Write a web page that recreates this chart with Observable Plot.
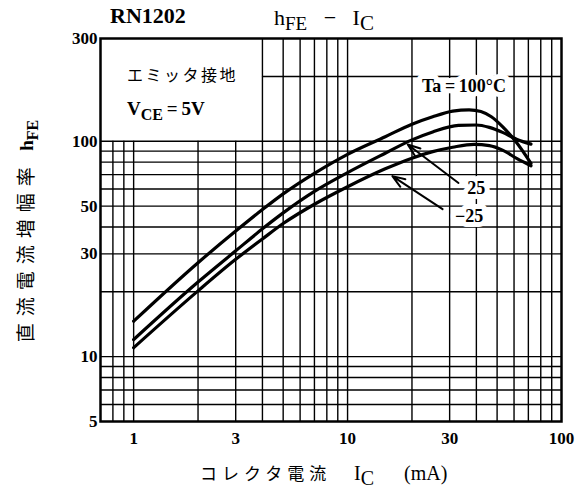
<!DOCTYPE html>
<html><head><meta charset="utf-8">
<script src="https://cdn.jsdelivr.net/npm/d3@7"></script>
<script src="https://cdn.jsdelivr.net/npm/@observablehq/plot@0.6"></script>
<style>body{margin:0;background:#fff}</style>
</head><body><div id="chart"></div>
<script>
// ---- data ----
const xGrid = [0.8, 0.9, 1, 2, 3, 4, 5, 6, 7, 8, 9, 10, 20, 30, 40, 50, 60, 70, 80, 90];
const yGrid = [6, 7, 8, 9, 10, 20, 30, 40, 50, 60, 70, 80, 90, 100];
const yGridUpper = [200];
const xTicks = [1, 3, 10, 30, 100];
const yTicks = [5, 10, 30, 50, 100, 300];

const ic100  = [1, 2, 3, 4, 5, 7, 10, 15, 20, 25, 31, 37, 42, 47, 53, 61, 72];
const hfe100 = [14.6, 27.3, 38.3, 48.2, 57, 71, 87, 105, 120, 130, 138, 140, 137.5, 130, 117, 100, 79];
const ic25   = [1, 2, 3, 4, 5, 7, 10, 15, 20, 25, 33, 40, 46, 53, 62, 72];
const hfe25  = [12, 22.2, 31, 39.2, 46.5, 58.5, 71.5, 88, 101.5, 110.5, 118.5, 119, 116, 110, 102, 97];
const icM25  = [1, 2, 3, 4, 5, 7, 10, 15, 20, 25, 31, 39, 46, 53, 62, 72];
const hfeM25 = [11, 20.2, 28.3, 35.2, 41.5, 51, 61.5, 74.5, 83.5, 89.5, 93.8, 96.8, 95.5, 91, 83, 77];

const seriesNames = ["100", "25", "-25"];
const rows = [
  ...ic100.map((x, i) => ({ta: seriesNames[0], ic: x, hfe: hfe100[i]})),
  ...ic25.map((x, i) => ({ta: seriesNames[1], ic: x, hfe: hfe25[i]})),
  ...icM25.map((x, i) => ({ta: seriesNames[2], ic: x, hfe: hfeM25[i]}))
];

// annotations (data coordinates)
const labels = [
  {x: 35, y: 180, text: "Ta\u2009=\u2009100°C"},
  {x: 40, y: 60.5, text: "25"},
  {x: 37, y: 45, text: "\u221225"}
];
const arrows = [
  {x1: 33, y1: 64, x2: 19.1, y2: 96.6},
  {x1: 27.8, y1: 48.4, x2: 16.2, y2: 68.9}
];
const boxX = [0.7, 4], boxY = [100, 300];

const serif = "'Liberation Serif', 'DejaVu Serif', serif";
const jp = "'Noto Sans CJK JP', sans-serif";

const plot = Plot.plot({
  width: 586, height: 493,
  marginLeft: 100, marginRight: 25, marginTop: 38, marginBottom: 72,
  x: {type: "log", domain: [0.7, 100], axis: null},
  y: {type: "log", domain: [5, 300], axis: null},
  style: {fontFamily: serif, background: "white", overflow: "visible"},
  marks: [
    Plot.ruleX(xGrid.filter(d => d < boxX[1]), {x: d => d, y1: 5, y2: 100, stroke: "#000", strokeWidth: 1.4}),
    Plot.ruleX(xGrid.filter(d => d >= boxX[1]), {x: d => d, y1: 5, y2: 300, stroke: "#000", strokeWidth: 1.4}),
    Plot.ruleY(yGrid, {y: d => d, x1: 0.7, x2: 100, stroke: "#000", strokeWidth: 1.4}),
    Plot.ruleY(yGridUpper, {y: d => d, x1: boxX[1], x2: 100, stroke: "#000", strokeWidth: 1.4}),
    Plot.line(rows, {x: "ic", y: "hfe", z: "ta", curve: "monotone-x", stroke: "#000", strokeWidth: 3.2}),
    Plot.arrow(arrows, {x1: "x1", y1: "y1", x2: "x2", y2: "y2", stroke: "#000", strokeWidth: 2, headLength: 10, headAngle: 40}),
    Plot.text(labels, {x: "x", y: "y", text: "text", fontSize: 18, fontWeight: "bold", fill: "#000", stroke: "white", strokeWidth: 10}),
    Plot.frame({stroke: "#000", strokeWidth: 2.5}),
    Plot.text(xTicks, {x: d => d, y: 5, text: d => String(d), dy: 17, fontSize: 17, fontWeight: "bold", fill: "#000"}),
    Plot.text(yTicks, {x: 0.7, y: d => d, text: d => String(d), dx: -3, textAnchor: "end", fontSize: 17, fontWeight: "bold", fill: "#000"})
  ]
});
document.getElementById("chart").appendChild(plot);

// extra texts with subscripts
const svg = d3.select(plot);
function addText(x, y, parts, opts = {}) {
  const t = svg.append("text").attr("x", x).attr("y", y)
    .attr("font-family", opts.family || serif).attr("font-size", opts.size || 18)
    .attr("font-weight", opts.weight || "bold").attr("fill", "#000")
    .attr("text-anchor", opts.anchor || "start");
  if (opts.transform) t.attr("transform", opts.transform);
  let shifted = false;
  for (const p of parts) {
    const s = t.append("tspan").text(p.t);
    if (p.family) s.attr("font-family", p.family);
    if (p.weight) s.attr("font-weight", p.weight);
    if (p.ls) s.attr("letter-spacing", p.ls);
    if (p.size) s.attr("font-size", p.size);
    if (p.sub && !shifted) { s.attr("dy", 5); shifted = true; }
    else if (!p.sub && shifted) { s.attr("dy", -5); shifted = false; }
  }
  return t;
}
// title
addText(110, 23, [{t: "RN1202"}], {size: 22});
addText(274, 25, [{t: "h"}, {t: "FE", sub: true, size: 19}, {t: "   \u2212   I"}, {t: "C", sub: true, size: 21}], {size: 22, weight: "normal"});
// box text
addText(127, 81, [{t: "エミッタ接地", family: jp, weight: "normal", ls: 2.5}], {size: 16});
addText(127, 115, [{t: "V"}, {t: "CE", sub: true, size: 16}, {t: "\u2009=\u20095V"}], {size: 19});
// x label
addText(200, 480, [{t: "コレクタ電流", family: jp, weight: "normal", ls: 5}], {size: 17});
addText(354, 480, [{t: "I"}, {t: "C", sub: true, size: 20, weight: "normal"}], {size: 20, weight: "normal"});
addText(404, 480, [{t: "(mA)"}], {size: 20, weight: "normal"});
// y label
addText(0, 0, [{t: "直流電流増幅率", family: jp, weight: "normal", ls: 7}, {t: "  h"}, {t: "FE", sub: true, size: 16}],
  {size: 19, anchor: "middle", transform: "translate(33,231) rotate(-90)"});
</script>
</body></html>
